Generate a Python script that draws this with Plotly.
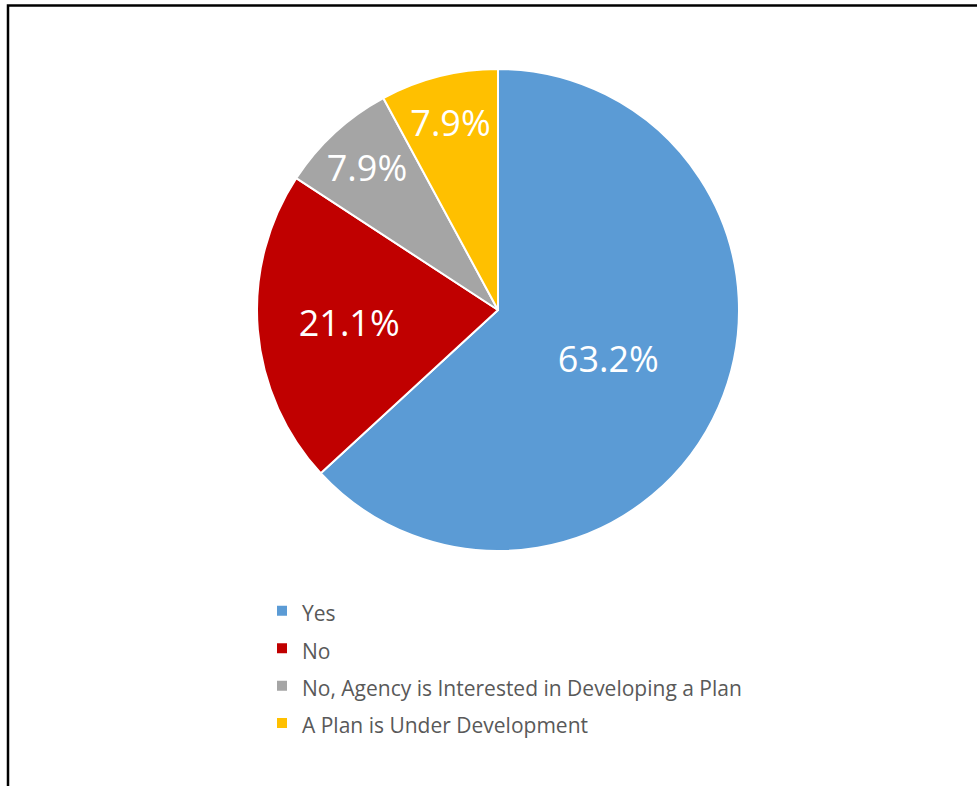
import plotly.graph_objects as go

categories = ["Yes", "No", "No, Agency is Interested in Developing a Plan", "A Plan is Under Development"]
counts = [24, 8, 3, 3]
colors = ["#5B9BD5", "#C00000", "#A5A5A5", "#FFC000"]

W, H = 977, 786
FONT = "Open Sans"

legend_labels = ['<span style="font-size:21px">%s</span>' % c for c in categories]

fig = go.Figure(go.Pie(
    labels=legend_labels,
    values=counts,
    marker=dict(colors=colors, line=dict(color="white", width=2)),
    sort=False,
    direction="clockwise",
    rotation=0,
    textinfo="percent",
    texttemplate="%{percent:.1%}",
    textposition="inside",
    insidetextorientation="horizontal",
    textfont=dict(family=FONT, size=36, color="white"),
    domain=dict(x=[257 / W, 739 / W], y=[1 - 551 / H, 1 - 69 / H]),
    hoverinfo="label+percent",
))

fig.update_layout(
    width=W, height=H,
    margin=dict(l=0, r=0, t=0, b=0),
    paper_bgcolor="white",
    plot_bgcolor="white",
    font=dict(family=FONT, color="#595959"),
    showlegend=True,
    legend=dict(
        x=262 / W, xanchor="left",
        y=1 - 587 / H, yanchor="top",
        font=dict(family=FONT, size=26.5, color="#595959"),
        bgcolor="rgba(0,0,0,0)",
        itemwidth=30,
    ),
    shapes=[dict(
        type="rect", xref="paper", yref="paper",
        x0=8 / W, x1=1.05, y0=-0.05, y1=1 - 5.5 / H,
        line=dict(color="black", width=2.5),
        fillcolor="rgba(0,0,0,0)",
    )],
)

fig.write_html("out.html", config={"displayModeBar": False},
               post_script="document.body.style.margin='0px';")
